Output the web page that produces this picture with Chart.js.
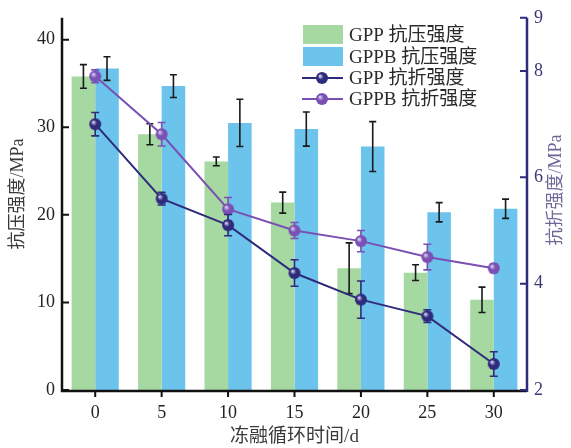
<!DOCTYPE html>
<html>
<head>
<meta charset="utf-8">
<script src="https://cdn.jsdelivr.net/npm/chart.js@4/dist/chart.umd.min.js"></script>
<style>
  html, body { margin: 0; padding: 0; background: #fff; }
</style>
</head>
<body>
<canvas id="strengthChart" width="571" height="448"></canvas>
<script>
// freeze-thaw cycles (d)
const cycles = ['0', '5', '10', '15', '20', '25', '30'];

// compressive strength, MPa (left axis)
const gppCompressive = [35.8, 29.2, 26.1, 21.4, 13.9, 13.4, 10.3];
const gppCompressiveErr = [1.35, 1.2, 0.5, 1.2, 2.9, 0.9, 1.45];
const gppbCompressive = [36.7, 34.7, 30.5, 29.8, 27.8, 20.3, 20.7];
const gppbCompressiveErr = [1.35, 1.3, 2.7, 1.95, 2.85, 1.1, 1.1];

// flexural strength, MPa (right axis)
const gppFlexural = [7.0, 5.6, 5.1, 4.2, 3.7, 3.39, 2.49];
const gppFlexuralErr = [0.22, 0.12, 0.2, 0.25, 0.35, 0.12, 0.23];
const gppbFlexural = [7.9, 6.81, 5.4, 5.0, 4.8, 4.5, 4.29];
const gppbFlexuralErr = [0.12, 0.22, 0.22, 0.15, 0.2, 0.24, 0.08];

const leftTicks = [0, 10, 20, 30, 40];
const rightTicks = [2, 4, 6, 8, 9];

const legendNames = ['GPP 抗压强度', 'GPPB 抗压强度', 'GPP 抗折强度', 'GPPB 抗折强度'];

const GREEN = '#a6d8a1';
const BLUE = '#6cc4ec';
const NAVY = '#2e2a7c';
const PURPLE = '#7a50b4';
const FONT = "'Liberation Serif', 'Noto Sans CJK SC', serif";

const errors = [gppCompressiveErr, gppbCompressiveErr, gppFlexuralErr, gppbFlexuralErr];
const errColors = ['#1a1a1a', '#1a1a1a', NAVY, PURPLE];

// little shaded ball used as the point marker
function ball(color, r) {
  const c = document.createElement('canvas');
  c.width = c.height = r * 2 + 2;
  const g = c.getContext('2d');
  const cx = r + 1;
  const grad = g.createRadialGradient(cx - r * 0.35, cx - r * 0.35, 0.5, cx, cx, r);
  grad.addColorStop(0, '#d8d0f0');
  grad.addColorStop(0.45, color);
  grad.addColorStop(1, color);
  g.fillStyle = grad;
  g.beginPath();
  g.arc(cx, cx, r, 0, Math.PI * 2);
  g.fill();
  return c;
}
const navyBall = ball(NAVY, 6);
const purpleBall = ball(PURPLE, 6);

const decorations = {
  id: 'decorations',
  afterDatasetDraw(chart, args) {
    const i = args.index;
    const meta = args.meta;
    const errs = errors[i];
    const scale = chart.scales[meta.yAxisID];
    const values = chart.data.datasets[i].data;
    const ctx = chart.ctx;
    ctx.save();
    ctx.strokeStyle = errColors[i];
    ctx.lineWidth = 1.6;
    const cap = i < 2 ? 3.5 : 4;
    meta.data.forEach((el, k) => {
      const x = el.x;
      const top = scale.getPixelForValue(values[k] + errs[k]);
      const bot = scale.getPixelForValue(values[k] - errs[k]);
      ctx.beginPath();
      ctx.moveTo(x, top); ctx.lineTo(x, bot);
      ctx.moveTo(x - cap, top); ctx.lineTo(x + cap, top);
      ctx.moveTo(x - cap, bot); ctx.lineTo(x + cap, bot);
      ctx.stroke();
    });
    ctx.restore();
    // redraw the point on top of its error bar
    if (i >= 2) {
      const img = i === 2 ? navyBall : purpleBall;
      meta.data.forEach(el => {
        ctx.drawImage(img, el.x - img.width / 2, el.y - img.height / 2);
      });
    }
  },
  afterDraw(chart) {
    const ctx = chart.ctx;
    const a = chart.chartArea;
    const yL = chart.scales.yL, yR = chart.scales.yR, x = chart.scales.x;
    ctx.save();

    // axes lines
    ctx.lineWidth = 2.5;
    ctx.strokeStyle = '#111';
    ctx.beginPath();
    ctx.moveTo(a.left, a.top); ctx.lineTo(a.left, a.bottom + 1);
    ctx.lineTo(a.right, a.bottom + 1);
    ctx.stroke();
    ctx.strokeStyle = NAVY;
    ctx.beginPath();
    ctx.moveTo(a.right, a.top); ctx.lineTo(a.right, a.bottom + 2);
    ctx.stroke();

    // tick marks: inward on y axes, outward on x axis
    ctx.lineWidth = 2;
    ctx.strokeStyle = '#111';
    ctx.beginPath();
    leftTicks.forEach(v => {
      const y = yL.getPixelForValue(v);
      ctx.moveTo(a.left, y); ctx.lineTo(a.left + 7, y);
    });
    x.ticks.forEach((t, k) => {
      const px = x.getPixelForTick(k);
      ctx.moveTo(px, a.bottom); ctx.lineTo(px, a.bottom + 7);
    });
    ctx.stroke();
    ctx.strokeStyle = NAVY;
    ctx.beginPath();
    rightTicks.forEach(v => {
      const y = yR.getPixelForValue(v);
      ctx.moveTo(a.right, y); ctx.lineTo(a.right - 7, y);
    });
    ctx.stroke();

    // axis titles
    ctx.textAlign = 'center';
    ctx.textBaseline = 'middle';
    ctx.font = '18px ' + FONT;
    ctx.fillStyle = '#3a3a3a';
    ctx.save();
    ctx.translate(18, 194);
    ctx.rotate(-Math.PI / 2);
    ctx.fillText('抗压强度/MPa', 0, 0);
    ctx.restore();
    ctx.save();
    ctx.fillStyle = '#6c6898';
    ctx.translate(556, 190);
    ctx.rotate(-Math.PI / 2);
    ctx.fillText('抗折强度/MPa', 0, 0);
    ctx.restore();
    ctx.font = '19px ' + FONT;
    ctx.fillStyle = '#3a3a3a';
    ctx.fillText('冻融循环时间/d', (a.left + a.right) / 2, 437);

    // legend
    const lx = 303, tx = 349;
    const rows = [35, 57, 78, 99];
    ctx.fillStyle = GREEN;
    ctx.fillRect(lx, rows[0] - 10, 40, 19);
    ctx.fillStyle = BLUE;
    ctx.fillRect(lx, rows[1] - 10, 40, 19);
    [[NAVY, navyBall], [PURPLE, purpleBall]].forEach(([col, img], k) => {
      const y = rows[2 + k];
      ctx.strokeStyle = col;
      ctx.lineWidth = 2;
      ctx.beginPath();
      ctx.moveTo(lx - 1, y); ctx.lineTo(lx + 40, y);
      ctx.stroke();
      ctx.drawImage(img, lx + 19 - img.width / 2, y - img.height / 2);
    });
    ctx.font = '19px ' + FONT;
    ctx.fillStyle = '#2a2a2a';
    ctx.textAlign = 'left';
    legendNames.forEach((name, k) => ctx.fillText(name, tx, rows[k] + 1));

    ctx.restore();
  }
};

new Chart(document.getElementById('strengthChart'), {
  type: 'bar',
  data: {
    labels: cycles,
    datasets: [{
      label: legendNames[0],
      data: gppCompressive,
      backgroundColor: GREEN,
      yAxisID: 'yL',
      order: 1
    }, {
      label: legendNames[1],
      data: gppbCompressive,
      backgroundColor: BLUE,
      yAxisID: 'yL',
      order: 1
    }, {
      type: 'line',
      label: legendNames[2],
      data: gppFlexural,
      borderColor: NAVY,
      borderWidth: 2,
      pointRadius: 0,
      yAxisID: 'yR',
      order: 0
    }, {
      type: 'line',
      label: legendNames[3],
      data: gppbFlexural,
      borderColor: PURPLE,
      borderWidth: 2,
      pointRadius: 0,
      yAxisID: 'yR',
      order: 0
    }]
  },
  options: {
    responsive: false,
    animation: false,
    devicePixelRatio: 1,
    categoryPercentage: 0.71,
    barPercentage: 1.0,
    layout: { padding: { top: 14, left: 0, right: 0, bottom: 0 } },
    plugins: {
      legend: { display: false },
      tooltip: { enabled: false }
    },
    scales: {
      x: {
        offset: true,
        grid: { display: false, drawTicks: false },
        border: { display: false },
        ticks: { color: '#222', font: { family: FONT, size: 18 }, padding: 12 },
        afterFit(s) { s.height = 58; }
      },
      yL: {
        position: 'left',
        min: 0,
        max: 42.5,
        grid: { display: false, drawTicks: false },
        border: { display: false },
        ticks: { color: '#222', font: { family: FONT, size: 18 }, padding: 7 },
        afterBuildTicks(s) { s.ticks = leftTicks.map(v => ({ value: v })); },
        afterFit(s) { s.width = 62; }
      },
      yR: {
        position: 'right',
        min: 2,
        max: 9,
        grid: { display: false, drawTicks: false },
        border: { display: false },
        ticks: { color: '#3b3878', font: { family: FONT, size: 18 }, padding: 7 },
        afterBuildTicks(s) { s.ticks = rightTicks.map(v => ({ value: v })); },
        afterFit(s) { s.width = 44; }
      }
    }
  },
  plugins: [decorations]
});
</script>
</body>
</html>
